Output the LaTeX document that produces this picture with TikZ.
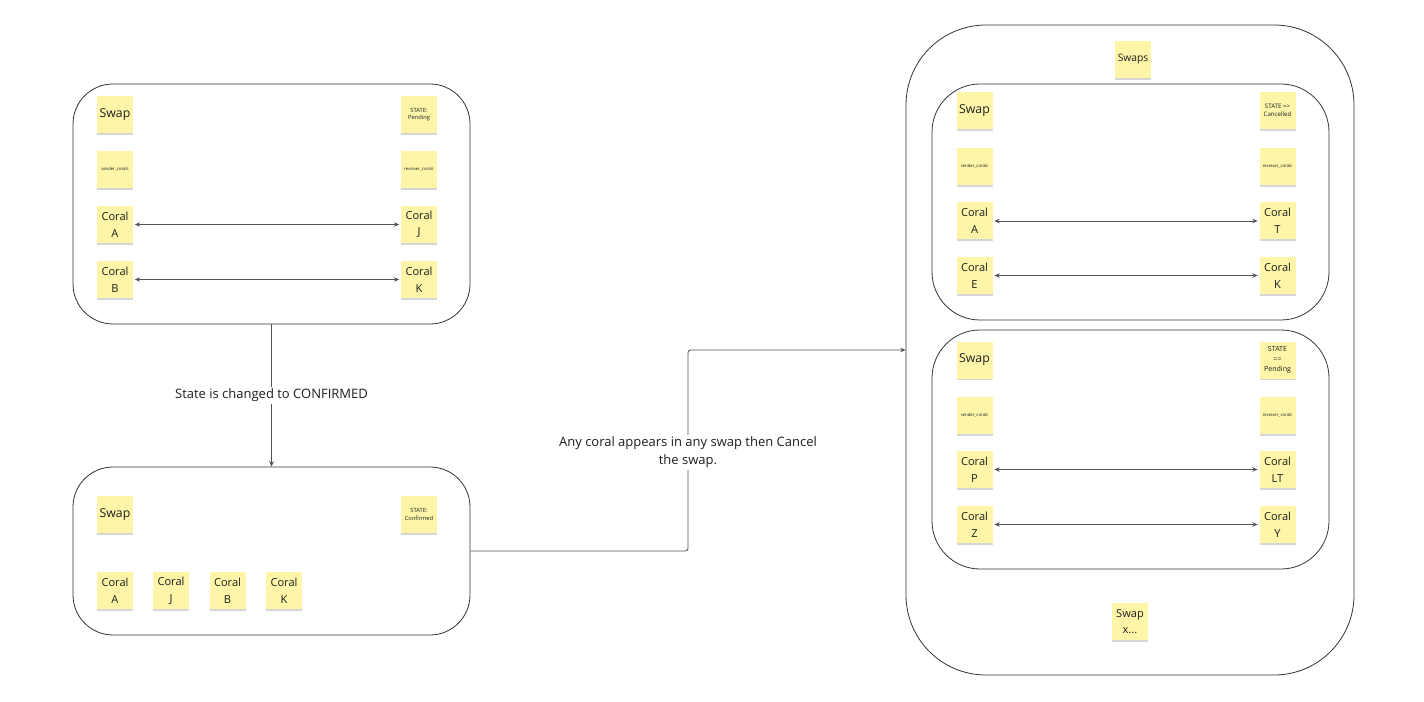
\documentclass[tikz,border=0pt]{standalone}
\usepackage{fontspec}
\setmainfont{Open Sans}
\usetikzlibrary{arrows.meta,shadows,calc}
\definecolor{notey}{HTML}{FEF5A9}
\definecolor{linec}{HTML}{333333}
\definecolor{textc}{HTML}{1E1E1E}
\begin{document}
\begin{tikzpicture}[x=0.75pt,y=-0.75pt,
  note/.style={fill=notey, minimum width=27pt, minimum height=27.75pt, inner sep=0pt,
    align=center, text=textc,
    drop shadow={shadow xshift=0pt, shadow yshift=-1.3pt, opacity=0.16, fill=black}},
  noteS/.style={note, font=\fontsize{9.2}{11}\selectfont},
  noteC/.style={note, font=\fontsize{8.3}{12.5}\selectfont},
  noteT/.style={note, font=\fontsize{4.3}{5.4}\selectfont},
  noteTL/.style={note, font=\fontsize{5.3}{7.4}\selectfont},
  noteXS/.style={note, font=\fontsize{3.2}{4}\selectfont},
  box/.style={draw=linec, line width=0.6pt, inner sep=0pt, rounded corners=30pt},
  conn/.style={draw=linec!85, line width=0.6pt, -{Stealth[length=4pt,width=3.4pt]}},
  dbl/.style={draw=linec!85, line width=0.6pt, {Stealth[length=4pt,width=3.4pt]}-{Stealth[length=4pt,width=3.4pt]},
    shorten <=1.2pt, shorten >=1.2pt},
  lab/.style={fill=white, text=textc, inner sep=1.5pt, align=center,
    font=\fontsize{9.75}{13.5}\selectfont}
]
\useasboundingbox (0,0) rectangle (1424,702);

% ---------- boxes ----------
\node[box, minimum width=297.75pt, minimum height=180pt] (tl) at (271.5,204) {};
\node[box, minimum width=297.75pt, minimum height=126pt] (bl) at (271.5,551) {};
\node[box, rounded corners=60pt, minimum width=336pt, minimum height=487.5pt] (outer) at (1130,350) {};
\node[box, rounded corners=36pt, minimum width=297.75pt, minimum height=177pt] (in1) at (1130.5,202) {};
\node[box, rounded corners=36pt, minimum width=297.75pt, minimum height=179.25pt] (in2) at (1130.5,449.5) {};

% ---------- top-left swap ----------
\node[noteS] (tlswap) at (115,114.5) {Swap};
\node[noteT] (tlstate) at (419,114.5) {STATE:\\Pending};
\node[noteXS] (tlsend) at (115,169.5) {sender\_corals};
\node[noteXS] (tlrecv) at (419,169.5) {receiver\_corals};
\node[noteC] (tlA) at (115,224.5) {Coral\\A};
\node[noteC] (tlJ) at (419,224.5) {Coral\\J};
\node[noteC] (tlB) at (115,279.5) {Coral\\B};
\node[noteC] (tlK) at (419,279.5) {Coral\\K};
\draw[dbl] (tlA.east) -- (tlJ.west);
\draw[dbl] (tlB.east) -- (tlK.west);

% ---------- bottom-left swap ----------
\node[noteS] (blswap) at (115,514.5) {Swap};
\node[noteT] (blstate) at (419,514.5) {STATE:\\Confirmed};
\node[noteC] (blA) at (115,590.5) {Coral\\A};
\node[noteC] (blJ) at (171,590.5) {Coral\\J};
\node[noteC] (blB) at (227.5,590.5) {Coral\\B};
\node[noteC] (blK) at (284,590.5) {Coral\\K};

% ---------- right: swaps ----------
\node[note, font=\fontsize{7.7}{10}\selectfont] (swaps) at (1133,59.5) {Swaps};

\node[noteS] (s1swap) at (974.5,110.5) {Swap};
\node[note, font=\fontsize{4.6}{6.4}\selectfont] (s1state) at (1277.5,110.5) {STATE =>\\Cancelled};
\node[noteXS] (s1send) at (974.5,166.5) {sender\_corals};
\node[noteXS] (s1recv) at (1277.5,166.5) {receiver\_corals};
\node[noteC] (s1A) at (974.5,221) {Coral\\A};
\node[noteC] (s1T) at (1277.5,221) {Coral\\T};
\node[noteC] (s1E) at (974.5,275.5) {Coral\\E};
\node[noteC] (s1K) at (1277.5,275.5) {Coral\\K};
\draw[dbl] (s1A.east) -- (s1T.west);
\draw[dbl] (s1E.east) -- (s1K.west);

\node[noteS] (s2swap) at (974.5,360) {Swap};
\node[noteTL] (s2state) at (1277.5,360) {STATE\\==\\Pending};
\node[noteXS] (s2send) at (974.5,415.5) {sender\_corals};
\node[noteXS] (s2recv) at (1277.5,415.5) {receiver\_corals};
\node[noteC] (s2P) at (974.5,469.5) {Coral\\P};
\node[noteC] (s2LT) at (1277.5,469.5) {Coral\\LT};
\node[noteC] (s2Z) at (974.5,524.5) {Coral\\Z};
\node[noteC] (s2Y) at (1277.5,524.5) {Coral\\Y};
\draw[dbl] (s2P.east) -- (s2LT.west);
\draw[dbl] (s2Z.east) -- (s2Y.west);

\node[noteC] (swapx) at (1130,621.5) {Swap\\x...};

% ---------- connectors ----------
\draw[conn] (tl.south) -- node[lab] {State is changed to CONFIRMED} (bl.north);
\coordinate (mid) at ($(bl.east)!0.5!(outer.west)$);
\draw[conn, rounded corners=2pt] (bl.east) -| (mid) |- (outer.west);
\node[lab] (lab2) at ($(mid)+(0,2)$) {Any coral appears in any swap then Cancel\\the swap.};
\end{tikzpicture}
\end{document}
